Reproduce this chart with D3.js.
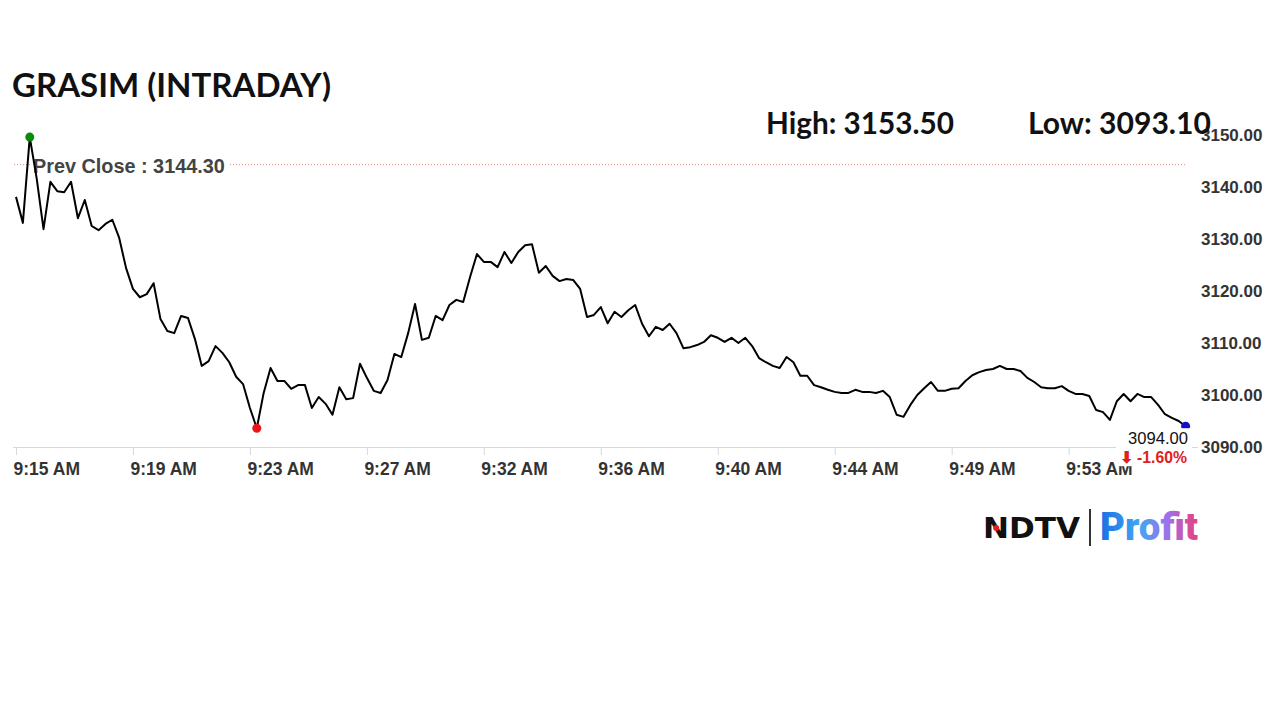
<!DOCTYPE html>
<html>
<head>
<meta charset="utf-8">
<script src="https://cdn.jsdelivr.net/npm/d3@7"></script>
<style>
body{margin:0;background:#fff;}
svg{display:block;}
</style>
</head>
<body>
<svg id="chart" width="1280" height="720"></svg>
<script>
// values
var title = "GRASIM (INTRADAY)";
var highValue = 3153.50;
var lowValue = 3093.10;
var prevClose = 3144.30;
var changePct = -1.60;
var tickLabels = ["9:15 AM","9:19 AM","9:23 AM","9:27 AM","9:32 AM","9:36 AM","9:40 AM","9:44 AM","9:49 AM","9:53 AM"];
var yTicks = [3090, 3100, 3110, 3120, 3130, 3140, 3150];
// one price every 15 seconds from 9:15
var prices = [
 3138.1,3133.1,3149.6,3141.7,3131.9,3141.0,3139.2,3139.0,3141.0,3134.0,
 3137.5,3132.5,3131.7,3132.9,3133.7,3130.2,3124.4,3120.4,3118.8,3119.4,
 3121.5,3114.6,3112.3,3111.9,3115.2,3114.8,3110.8,3105.6,3106.5,3109.4,
 3108.1,3106.3,3103.5,3102.1,3097.5,3093.6,3100.4,3105.2,3102.7,3102.7,
 3101.2,3101.9,3101.9,3097.5,3099.6,3098.3,3096.2,3101.5,3099.2,3099.4,
 3106.0,3103.3,3100.8,3100.4,3102.9,3107.9,3107.3,3111.9,3117.5,3110.6,
 3111.0,3115.2,3114.4,3117.3,3118.3,3117.9,3122.7,3127.1,3125.6,3125.6,
 3124.6,3127.5,3125.4,3127.5,3128.8,3129.0,3123.5,3124.8,3122.9,3121.9,
 3122.3,3122.1,3120.4,3115.0,3115.4,3116.9,3113.8,3116.0,3115.0,3116.3,
 3117.3,3113.7,3111.3,3113.1,3112.5,3113.7,3111.9,3109.0,3109.2,3109.6,
 3110.2,3111.5,3111.0,3110.2,3111.0,3110.0,3111.0,3109.4,3107.1,3106.3,
 3105.6,3105.2,3107.3,3106.3,3103.7,3103.7,3101.9,3101.5,3101.0,3100.6,
 3100.4,3100.4,3101.0,3100.6,3100.6,3100.4,3100.8,3099.6,3096.2,3095.8,
 3098.1,3100.0,3101.3,3102.5,3100.8,3100.8,3101.2,3101.3,3102.7,3103.8,
 3104.4,3104.8,3105.0,3105.6,3105.0,3105.0,3104.6,3103.3,3102.5,3101.5,
 3101.3,3101.3,3101.7,3100.8,3100.2,3100.2,3099.8,3097.1,3096.7,3095.2,
 3098.8,3100.2,3098.8,3100.2,3099.6,3099.6,3098.1,3096.3,3095.6,3095.0,
 3094.0
];

var STEP = 15;       // seconds between points
var TICK_EVERY = 17; // points between x labels

var svg = d3.select("#chart");
var t0 = new Date(2024, 0, 1, 9, 15, 0);
var data = prices.map(function(v, i){
    return {t: new Date(+t0 + i*STEP*1000), v: v};
});

var x = d3.scaleTime()
    .domain(d3.extent(data, function(d){return d.t;}))
    .range([16, 1185.6]);
var y = d3.scaleLinear().domain([3090, 3150]).range([447, 135]);

function fitWidth(sel, w) {
    var cur = sel.node().getComputedTextLength();
    var fs = parseFloat(sel.attr("font-size"));
    sel.attr("font-size", fs * w / cur);
    return sel;
}

// x axis
svg.append("line")
    .attr("x1", 13).attr("x2", 1198)
    .attr("y1", 447.5).attr("y2", 447.5)
    .attr("stroke", "#d8d8d8").attr("stroke-width", 1);

var tickTimes = tickLabels.map(function(l, k){ return data[k*TICK_EVERY].t; });
var xAxis = svg.append("g")
    .attr("transform", "translate(0,448)")
    .call(d3.axisBottom(x).tickValues(tickTimes)
        .tickFormat(function(d, i){ return tickLabels[i]; })
        .tickSize(7).tickPadding(8));
xAxis.select(".domain").remove();
xAxis.selectAll(".tick line").attr("stroke", "#d8d8d8");
xAxis.selectAll(".tick text")
    .attr("text-anchor", "start")
    .attr("dx", -3)
    .attr("fill", "#333")
    .attr("font-family", "Liberation Sans, Arial, sans-serif")
    .attr("font-weight", "bold")
    .attr("font-size", 17.5);

// y axis labels on the right
var yAxis = svg.append("g")
    .attr("transform", "translate(1199,0)")
    .call(d3.axisRight(y).tickValues(yTicks).tickFormat(d3.format(".2f")).tickSize(0).tickPadding(2));
yAxis.select(".domain").remove();
yAxis.selectAll(".tick text")
    .attr("fill", "#333")
    .attr("font-family", "Liberation Sans, Arial, sans-serif")
    .attr("font-weight", "bold")
    .attr("font-size", 17);

// previous close
svg.append("line")
    .attr("x1", 14).attr("x2", 1186)
    .attr("y1", y(prevClose)).attr("y2", y(prevClose))
    .attr("stroke", "#d98b7c").attr("stroke-width", 1)
    .attr("stroke-dasharray", "1,2");
svg.append("rect")
    .attr("x", 30).attr("y", y(prevClose) - 12)
    .attr("width", 199).attr("height", 22)
    .attr("fill", "#fff");
var pcText = svg.append("text")
    .attr("x", 33).attr("y", y(prevClose) + 8)
    .attr("fill", "#444")
    .attr("font-family", "Liberation Sans, Arial, sans-serif")
    .attr("font-weight", "bold")
    .attr("font-size", 18)
    .text("Prev Close : " + prevClose.toFixed(2));
fitWidth(pcText, 192);

// price line
var line = d3.line()
    .x(function(d){return x(d.t);})
    .y(function(d){return y(d.v);});
svg.append("path")
    .datum(data)
    .attr("d", line)
    .attr("fill", "none")
    .attr("stroke", "#000")
    .attr("stroke-width", 2)
    .attr("stroke-linejoin", "round");

var maxPt = data[d3.maxIndex(data, function(d){return d.v;})];
var minPt = data[d3.minIndex(data, function(d){return d.v;})];
var lastPt = data[data.length - 1];

svg.append("circle").attr("cx", x(maxPt.t)).attr("cy", y(maxPt.v)).attr("r", 4.5).attr("fill", "#0a8a0a");
svg.append("circle").attr("cx", x(minPt.t)).attr("cy", y(minPt.v)).attr("r", 4.5).attr("fill", "#e8161a");
svg.append("circle").attr("cx", x(lastPt.t)).attr("cy", y(lastPt.v)).attr("r", 4.5).attr("fill", "#1010c8");

// last price box
svg.append("rect")
    .attr("x", 1116).attr("y", y(lastPt.v) + 2)
    .attr("width", 76).attr("height", 38)
    .attr("fill", "#fff");
var lastText = svg.append("text")
    .attr("x", 1188).attr("y", 444)
    .attr("text-anchor", "end")
    .attr("fill", "#111")
    .attr("font-family", "Liberation Sans, Arial, sans-serif")
    .attr("font-size", 15)
    .text(lastPt.v.toFixed(2));
fitWidth(lastText, 60);
var chgText = svg.append("text")
    .attr("x", 1187).attr("y", 463)
    .attr("text-anchor", "end")
    .attr("fill", "#e0201c")
    .attr("font-family", "Liberation Sans, Arial, sans-serif")
    .attr("font-weight", "bold")
    .attr("font-size", 15)
    .text("\u2B07 " + changePct.toFixed(2) + "%");
fitWidth(chgText, 68);

// title and high / low
var tText = svg.append("text")
    .attr("x", 12).attr("y", 97)
    .attr("fill", "#111")
    .attr("font-family", "Lato, Open Sans, sans-serif")
    .attr("font-weight", "bold")
    .attr("font-size", 30)
    .text(title);
fitWidth(tText, 319);

var hText = svg.append("text")
    .attr("x", 766).attr("y", 134)
    .attr("fill", "#111")
    .attr("font-family", "Lato, Open Sans, sans-serif")
    .attr("font-weight", "bold")
    .attr("font-size", 27)
    .text("High: " + highValue.toFixed(2));
fitWidth(hText, 188);
var lText = svg.append("text")
    .attr("x", 1028).attr("y", 134)
    .attr("fill", "#111")
    .attr("font-family", "Lato, Open Sans, sans-serif")
    .attr("font-weight", "bold")
    .attr("font-size", 27)
    .text("Low: " + lowValue.toFixed(2));
fitWidth(lText, 183);

// logo
var defs = svg.append("defs");
var grad = defs.append("linearGradient").attr("id", "profitGrad")
    .attr("x1", "0%").attr("x2", "100%").attr("y1", "0%").attr("y2", "0%");
grad.append("stop").attr("offset", "0%").attr("stop-color", "#1c6fe3");
grad.append("stop").attr("offset", "40%").attr("stop-color", "#3fa8f2");
grad.append("stop").attr("offset", "70%").attr("stop-color", "#a070ea");
grad.append("stop").attr("offset", "100%").attr("stop-color", "#ea3f7a");

var ndtv = svg.append("text")
    .attr("x", 983).attr("y", 538)
    .attr("fill", "#111")
    .attr("font-family", "DejaVu Sans, sans-serif")
    .attr("font-weight", "bold")
    .attr("font-size", 29)
    .attr("textLength", 97)
    .attr("lengthAdjust", "spacingAndGlyphs")
    .text("NDTV");
var nb = ndtv.node().getBBox();
svg.append("circle")
    .attr("cx", nb.x + nb.width * 0.135)
    .attr("cy", 528)
    .attr("r", 3)
    .attr("fill", "#e0201c");
svg.append("line")
    .attr("x1", 1090).attr("x2", 1090)
    .attr("y1", 509).attr("y2", 546)
    .attr("stroke", "#333").attr("stroke-width", 2);
svg.append("text")
    .attr("x", 1100).attr("y", 540)
    .attr("fill", "url(#profitGrad)")
    .attr("font-family", "Roboto, sans-serif")
    .attr("font-weight", "900")
    .attr("font-size", 38)
    .attr("textLength", 98)
    .attr("lengthAdjust", "spacingAndGlyphs")
    .text("Profit");
</script>
</body>
</html>
